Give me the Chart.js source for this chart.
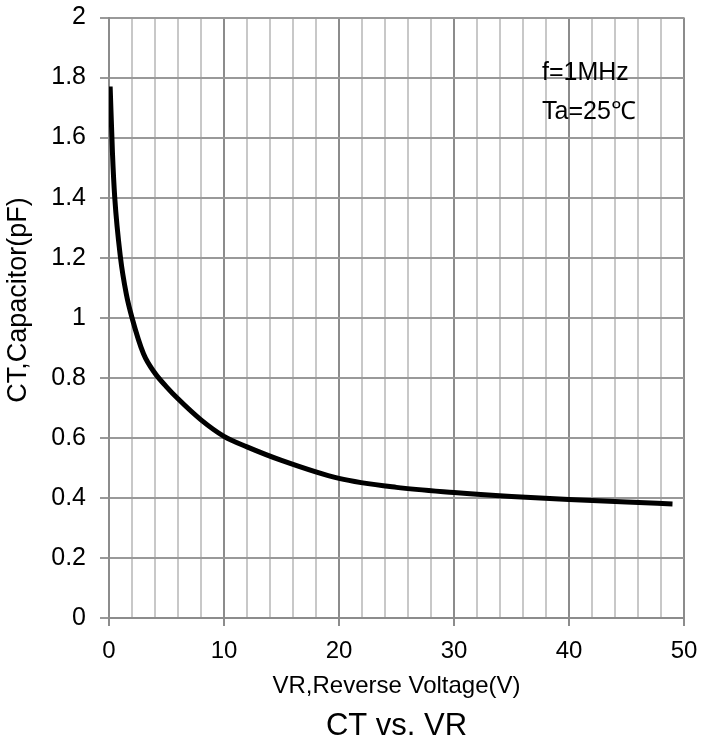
<!DOCTYPE html>
<html>
<head>
<meta charset="utf-8">
<script src="https://cdn.jsdelivr.net/npm/chart.js@4"></script>
<style>
  html, body { margin: 0; padding: 0; background: #fff; }
  #wrap { width: 701px; height: 742px; }
</style>
</head>
<body>
<div id="wrap"><canvas id="ctvr"></canvas></div>
<script>
// data
var vr = [0.1, 0.3, 0.5, 1, 1.5, 2, 3, 4, 5, 6, 8, 10, 12, 15, 20, 25, 30, 35, 40, 45, 49];
var ct = [1.77, 1.55, 1.40, 1.20, 1.08, 1.00, 0.88, 0.815, 0.77, 0.73, 0.66, 0.605, 0.57, 0.525, 0.465, 0.435, 0.418, 0.405, 0.395, 0.386, 0.38];
var notes = ["f=1MHz", "Ta=25\u2103"];
var noteX = [37.65, 37.65];
var noteY = [1.816, 1.685];
var yTitle = "CT,Capacitor(pF)";

var font = "'Liberation Sans', Arial, sans-serif";

var points = vr.map(function(v, i) { return {x: v, y: ct[i]}; });

// conditions text inside the plot + rotated y title
var notePlugin = {
  id: 'notes',
  afterDatasetsDraw: function(chart) {
    var c = chart.ctx;
    c.save();
    c.font = '25px ' + font;
    c.fillStyle = '#000';
    c.textAlign = 'left';
    c.textBaseline = 'middle';
    notes.forEach(function(t, i) {
      c.fillText(t, chart.scales.x.getPixelForValue(noteX[i]), chart.scales.y.getPixelForValue(noteY[i]));
    });
    c.restore();

    c.save();
    c.translate(19, 300);
    c.rotate(-Math.PI / 2);
    c.font = '27px ' + font;
    c.fillStyle = '#000';
    c.textAlign = 'center';
    c.textBaseline = 'middle';
    c.fillText(yTitle, 0, 0);
    c.restore();
  }
};

var chart = new Chart(document.getElementById('ctvr').getContext('2d'), {
  type: 'line',
  data: {
    datasets: [{
      data: points,
      borderColor: '#000',
      borderWidth: 5,
      pointRadius: 0,
      cubicInterpolationMode: 'monotone',
      fill: false
    }]
  },
  options: {
    responsive: true,
    maintainAspectRatio: false,
    animation: false,
    layout: { padding: { top: 17.5, right: 17, left: 0, bottom: 0 } },
    plugins: {
      legend: { display: false },
      tooltip: { enabled: false },
      title: {
        display: true,
        position: 'bottom',
        fullSize: false,
        text: 'CT vs. VR',
        color: '#000',
        font: { family: font, size: 31, weight: 'normal', lineHeight: 1.0 },
        padding: { top: 0, bottom: 0 }
      }
    },
    scales: {
      x: {
        type: 'linear',
        min: 0,
        max: 50,
        // fixed height, and no extra room for the end labels
        afterFit: function(s) { s.height = 93; s.paddingLeft = 0; s.paddingRight = 0; },
        border: { color: '#8c8c8c', width: 2 },
        grid: {
          lineWidth: 2,
          tickLength: 8,
          color: function(ctx) { return ctx.tick && ctx.tick.value % 10 === 0 ? '#8c8c8c' : '#c8c8c8'; },
          tickColor: function(ctx) { return ctx.tick && ctx.tick.value % 10 === 0 ? '#8c8c8c' : 'rgba(0,0,0,0)'; }
        },
        ticks: {
          stepSize: 2,
          autoSkip: false,
          maxRotation: 0,
          padding: 11,
          color: '#000',
          font: { family: font, size: 24 },
          callback: function(v) { return v % 10 === 0 ? String(v) : ''; }
        },
        title: {
          display: true,
          text: 'VR,Reverse Voltage(V)',
          color: '#000',
          font: { family: font, size: 24 },
          padding: { top: 0, bottom: 10 }
        }
      },
      y: {
        min: 0,
        max: 2,
        afterFit: function(s) { s.width = 109; s.paddingTop = 0; s.paddingBottom = 0; },
        border: { color: '#8c8c8c', width: 2 },
        grid: { lineWidth: 2, tickLength: 9, color: '#999', tickColor: '#999' },
        ticks: {
          stepSize: 0.2,
          padding: 14,
          color: '#000',
          font: { family: font, size: 25 },
          callback: function(v) { return String(Math.round(v * 10) / 10); }
        },
        title: { display: false }
      }
    }
  },
  plugins: [notePlugin]
});
</script>
</body>
</html>
